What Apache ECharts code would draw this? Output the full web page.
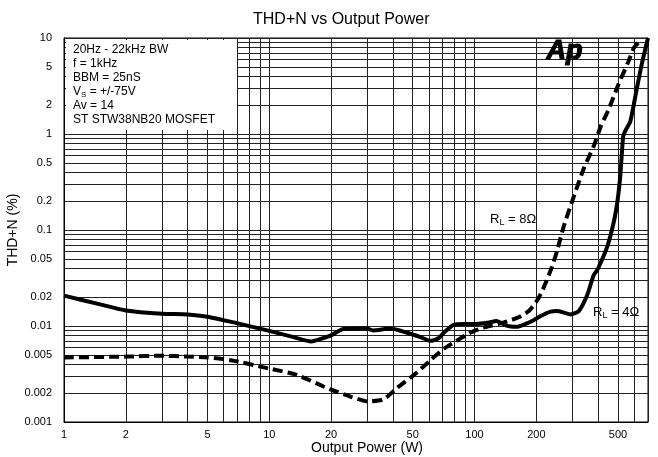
<!DOCTYPE html>
<html>
<head>
<meta charset="utf-8">
<title>THD+N vs Output Power</title>
<script src="https://cdn.jsdelivr.net/npm/echarts@6/dist/echarts.min.js"></script>
<style>
  html, body { margin: 0; padding: 0; background: #fff; }
  #chart { width: 658px; height: 457px; }
</style>
</head>
<body>
<div id="chart"></div>
<script>
// 4 ohm load (solid)
const power4 = [1, 1.5, 2, 3, 4, 5, 6.7, 10, 13, 16, 18.4, 20, 23, 30, 32, 39, 47, 55, 61, 67, 72, 79, 90, 103, 115, 128, 140, 150, 161, 175, 194, 210, 235, 253, 275, 294, 322, 354, 380, 398, 444, 478, 497, 512, 520, 530, 545, 574, 618, 656, 700];
const thd4 = [0.0207, 0.0168, 0.0145, 0.0134, 0.0132, 0.0125, 0.0109, 0.0089, 0.0077, 0.0069, 0.0075, 0.0080, 0.0093, 0.0094, 0.0090, 0.0094, 0.0085, 0.0076, 0.0070, 0.0075, 0.0088, 0.0103, 0.0105, 0.0105, 0.0108, 0.0113, 0.0103, 0.0099, 0.0098, 0.0104, 0.0115, 0.0127, 0.0141, 0.0143, 0.0137, 0.0132, 0.0143, 0.021, 0.0335, 0.039, 0.068, 0.124, 0.2, 0.35, 0.55, 0.95, 1.1, 1.35, 3.0, 5.6, 10];

// 8 ohm load (dashed)
const power8 = [1, 2, 3, 4, 5, 6.5, 10, 13.6, 20, 25, 30, 36, 42, 52.6, 61, 71, 95, 110, 139, 165, 185, 205, 222, 238, 252, 273, 305, 341, 382, 412, 450, 500, 560, 600, 650];
const thd8 = [0.0047, 0.0048, 0.0049, 0.0048, 0.0047, 0.0044, 0.0036, 0.0031, 0.00217, 0.00183, 0.00164, 0.00172, 0.00227, 0.0033, 0.0044, 0.0058, 0.0085, 0.0096, 0.0109, 0.0124, 0.0145, 0.0195, 0.028, 0.041, 0.06, 0.112, 0.225, 0.44, 0.76, 1.2, 1.8, 3.2, 5.6, 8.0, 9.6];

// axis ticks and grid lines
const xLabels = [1, 2, 5, 10, 20, 50, 100, 200, 500];
const xGrid = [1, 2, 3, 4, 5, 6, 7, 8, 9, 10, 20, 30, 40, 50, 60, 70, 80, 90, 100, 200, 300, 400, 500, 600, 700];
const yLabels = [0.001, 0.002, 0.005, 0.01, 0.02, 0.05, 0.1, 0.2, 0.5, 1, 2, 5, 10];
const yGrid = [0.001, 0.002, 0.003, 0.004, 0.005, 0.006, 0.007, 0.008, 0.009,
  0.01, 0.02, 0.03, 0.04, 0.05, 0.06, 0.07, 0.08, 0.09,
  0.1, 0.2, 0.3, 0.4, 0.5, 0.6, 0.7, 0.8, 0.9,
  1, 2, 3, 4, 5, 6, 7, 8, 9, 10];

const conditions = [
  "20Hz - 22kHz BW",
  "f = 1kHz",
  "BBM = 25nS",
  "{n|V}{s|S}{n| = +/-75V}",
  "Av = 14",
  "ST STW38NB20 MOSFET"
];

const FONT = "Liberation Sans, Arial, sans-serif";
const fmt = (v) => String(parseFloat(Number(v).toPrecision(6)));
const pairs = (xs, ys) => xs.map((x, i) => [x, ys[i]]);

const chart = echarts.init(document.getElementById("chart"));

const subRich = {
  n: { fontFamily: FONT, fontSize: 12, color: "#000", lineHeight: 14 },
  s: { fontFamily: FONT, fontSize: 8, color: "#000", lineHeight: 8, verticalAlign: "bottom" }
};
const loadRich = {
  n: { fontFamily: FONT, fontSize: 13, color: "#000", lineHeight: 15 },
  s: { fontFamily: FONT, fontSize: 9, color: "#000", lineHeight: 7, verticalAlign: "bottom" }
};

chart.setOption({
  animation: false,
  backgroundColor: "#fff",
  textStyle: { fontFamily: FONT },
  title: {
    text: "THD+N vs Output Power",
    left: 248,
    top: 7,
    textStyle: { fontFamily: FONT, fontSize: 16, fontWeight: "normal", color: "#000" }
  },
  grid: {
    left: 64, right: 10, top: 38, bottom: 35,
    outerBoundsMode: "none",
    show: true, borderColor: "#000", borderWidth: 1
  },
  xAxis: {
    type: "log",
    min: 1,
    max: 700,
    name: "Output Power (W)",
    nameLocation: "middle",
    nameGap: 19,
    nameMoveOverlap: false,
    nameTextStyle: { fontFamily: FONT, fontSize: 14, color: "#000", padding: [0, 0, 0, 22] },
    axisLine: { lineStyle: { color: "#000" } },
    axisTick: { show: false, customValues: xGrid },
    axisLabel: { customValues: xLabels, formatter: fmt, color: "#000", fontSize: 11, margin: 7 },
    splitLine: { show: true, lineStyle: { color: "#222", width: 1 } }
  },
  yAxis: {
    type: "log",
    min: 0.001,
    max: 10,
    name: "THD+N (%)",
    nameLocation: "middle",
    nameGap: 44,
    nameMoveOverlap: false,
    nameTextStyle: { fontFamily: FONT, fontSize: 14, color: "#000" },
    axisLine: { lineStyle: { color: "#000" } },
    axisTick: { show: false, customValues: yGrid },
    axisLabel: { customValues: yLabels, formatter: fmt, color: "#000", fontSize: 11, margin: 12 },
    splitLine: { show: true, lineStyle: { color: "#222", width: 1 } }
  },
  series: [
    {
      name: "RL = 4",
      type: "line",
      data: pairs(power4, thd4),
      symbol: "none",
      smooth: 0.2,
      lineStyle: { color: "#000", width: 4 },
      z: 5
    },
    {
      name: "RL = 8",
      type: "line",
      data: pairs(power8, thd8),
      symbol: "none",
      smooth: 0.2,
      lineStyle: { color: "#000", width: 4, type: [10, 5] },
      z: 5
    }
  ],
  graphic: [
    {
      type: "rect",
      z: 10,
      shape: { x: 66, y: 40, width: 171, height: 90 },
      style: { fill: "#fff" }
    },
    {
      type: "text",
      z: 11,
      left: 73,
      top: 44,
      style: {
        text: conditions.map((t) => (t.indexOf("{") === 0 ? t : "{n|" + t + "}")).join("\n"),
        rich: subRich,
        fill: "#000"
      }
    },
    {
      type: "text",
      z: 11,
      left: 546,
      top: 37,
      style: {
        text: "Ap", fontFamily: FONT, fontSize: 27, fontWeight: "bold", fontStyle: "italic",
        fill: "#000", stroke: "#000", lineWidth: 1.2
      }
    },
    {
      type: "text",
      z: 11,
      left: 490,
      top: 213,
      style: { text: "{n|R}{s|L}{n| = 8\u03a9}", rich: loadRich }
    },
    {
      type: "text",
      z: 11,
      left: 593,
      top: 306,
      style: { text: "{n|R}{s|L}{n| = 4\u03a9}", rich: loadRich }
    }
  ]
});
</script>
</body>
</html>
